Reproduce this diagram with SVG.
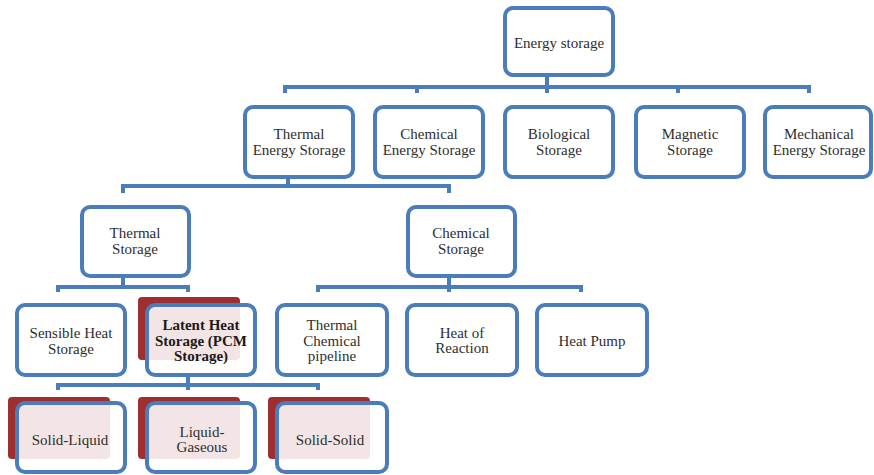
<svg xmlns="http://www.w3.org/2000/svg" width="874" height="475" viewBox="0 0 874 475">
<style>
.box{fill:#ffffff;stroke:#4a7dba;stroke-width:4}
.pbox{fill:#ffffff;fill-opacity:0.88;stroke:#4a7dba;stroke-width:4}
.red{fill:#9e2e2f}
.t{font-family:"Liberation Serif","Times New Roman",serif;font-size:15px;fill:#2e2e2e;text-anchor:middle}
.b{font-weight:bold;fill:#1a1a1a}
.c{fill:none;stroke:#4a7dba;stroke-width:4;stroke-linejoin:miter}
</style>
<rect width="874" height="475" fill="#ffffff"/>
<g id="connectors">
<path class="c" d="M547,75 V87 M285,93 V87 H809 V93 M417,87 V93 M547,87 V93 M678,87 V93"/>
<path class="c" d="M288,177 V186 M123,193 V186 H449 V193"/>
<path class="c" d="M123,276 V287 M58,292 V287 H188 V292"/>
<path class="c" d="M449,276 V292 M318,292 V287 H581 V292"/>
<path class="c" d="M188,375 V390 M58,390 V385 H318 V390"/>
</g>
<g id="energy-storage"><rect class="box" x="505" y="8" width="108" height="67" rx="8"/><text class="t" x="559" y="48">Energy storage</text></g>
<g id="thermal-energy-storage"><rect class="box" x="245" y="107" width="108" height="70" rx="8"/><text class="t" x="299" y="139">Thermal</text><text class="t" x="299" y="155">Energy Storage</text></g>
<g id="chemical-energy-storage"><rect class="box" x="375" y="107" width="108" height="70" rx="8"/><text class="t" x="429" y="139">Chemical</text><text class="t" x="429" y="155">Energy Storage</text></g>
<g id="biological-storage"><rect class="box" x="505" y="107" width="108" height="70" rx="8"/><text class="t" x="559" y="139">Biological</text><text class="t" x="559" y="155">Storage</text></g>
<g id="magnetic-storage"><rect class="box" x="636" y="107" width="108" height="70" rx="8"/><text class="t" x="690" y="139">Magnetic</text><text class="t" x="690" y="155">Storage</text></g>
<g id="mechanical-energy-storage"><rect class="box" x="765" y="107" width="106" height="70" rx="8"/><text class="t" x="819" y="139">Mechanical</text><text class="t" x="819" y="155">Energy Storage</text></g>
<g id="thermal-storage"><rect class="box" x="82" y="207" width="107" height="69" rx="8"/><text class="t" x="135" y="238">Thermal</text><text class="t" x="135" y="254">Storage</text></g>
<g id="chemical-storage"><rect class="box" x="408" y="207" width="107" height="69" rx="8"/><text class="t" x="461" y="238">Chemical</text><text class="t" x="461" y="254">Storage</text></g>
<g id="sensible-heat-storage"><rect class="box" x="17" y="305" width="108" height="70" rx="8"/><text class="t" x="71" y="338">Sensible Heat</text><text class="t" x="71" y="354">Storage</text></g>
<g id="latent-heat-storage"><rect class="red" x="138" y="297" width="102" height="63" rx="4"/><rect class="pbox" x="147" y="305" width="108" height="70" rx="8"/><text class="t b" x="201" y="330">Latent Heat</text><text class="t b" x="201" y="346">Storage (PCM</text><text class="t b" x="201" y="361">Storage)</text></g>
<g id="thermal-chemical-pipeline"><rect class="box" x="277" y="305" width="110" height="70" rx="8"/><text class="t" x="332" y="330">Thermal</text><text class="t" x="332" y="346">Chemical</text><text class="t" x="332" y="361">pipeline</text></g>
<g id="heat-of-reaction"><rect class="box" x="407" y="305" width="110" height="70" rx="8"/><text class="t" x="462" y="338">Heat of</text><text class="t" x="462" y="353">Reaction</text></g>
<g id="heat-pump"><rect class="box" x="537" y="305" width="110" height="70" rx="8"/><text class="t" x="592" y="346">Heat Pump</text></g>
<g id="solid-liquid"><rect class="red" x="8" y="397" width="102" height="62" rx="4"/><rect class="pbox" x="17" y="403" width="108" height="69" rx="8"/><text class="t" x="70" y="445">Solid-Liquid</text></g>
<g id="liquid-gaseous"><rect class="red" x="138" y="397" width="102" height="62" rx="4"/><rect class="pbox" x="147" y="403" width="108" height="69" rx="8"/><text class="t" x="202" y="437">Liquid-</text><text class="t" x="202" y="452">Gaseous</text></g>
<g id="solid-solid"><rect class="red" x="268" y="397" width="102" height="62" rx="4"/><rect class="pbox" x="277" y="403" width="110" height="69" rx="8"/><text class="t" x="330" y="445">Solid-Solid</text></g>
</svg>
